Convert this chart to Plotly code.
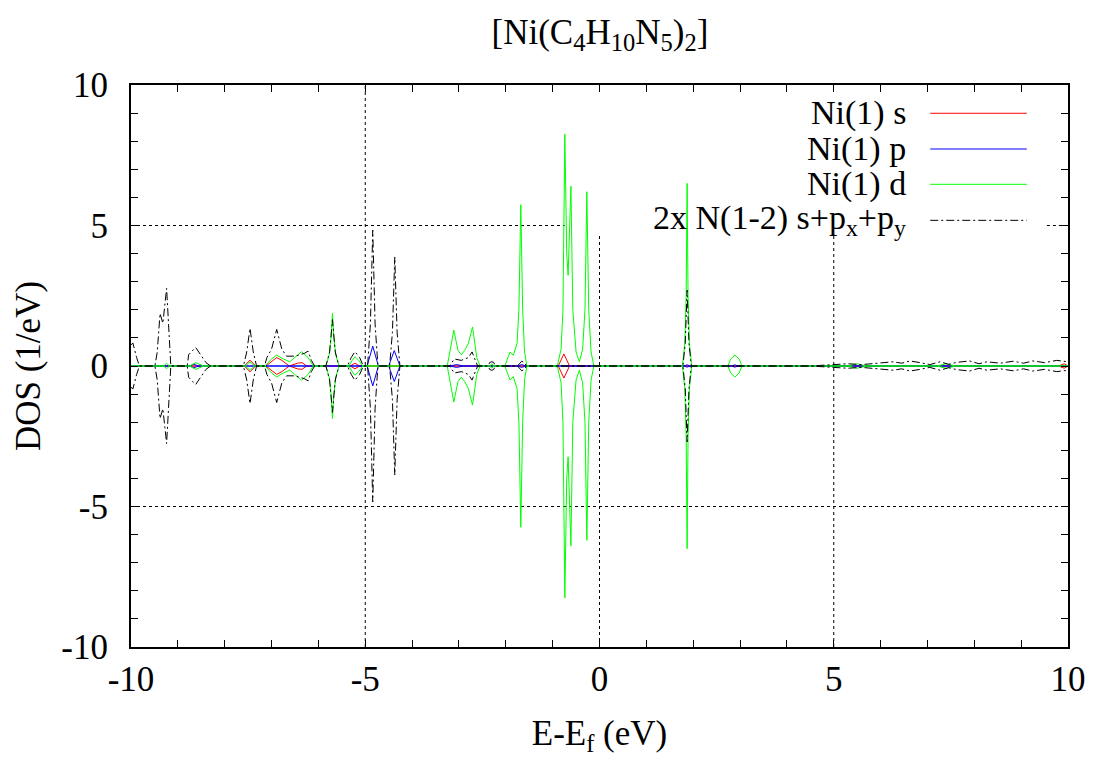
import plotly.graph_objects as go

# ---------------- data (spin-up DOS; spin-down drawn mirrored) ----------------
NI_S_E = [-10, -7.58, -7.46, -7.34, -7.12, -6.98, -6.89, -6.78, -6.62, -6.45, -6.35, -6.25,
          -5.32, -5.22, -5.12, -0.88, -0.76, -0.64, 9.8, 9.92, 10]
NI_S_DOS = [0, 0, 0.21, 0, 0, 0.2, 0.3, 0.2, 0, 0.1, 0.12, 0,
            0, 0.1, 0, 0, 0.43, 0, 0, 0.08, 0]

NI_P_E = [-10, -8.75, -8.66, -8.55, -4.96, -4.84, -4.72, -4.50, -4.38, -4.26,
          -3.2, -3.05, -2.9, -1.75, -1.66, -1.57, 1.8, 1.87, 1.94, 2.82, 2.89, 2.96, 10]
NI_P_DOS = [0, 0, 0.06, 0, 0, 0.71, 0, 0, 0.55, 0,
            0, 0.05, 0, 0, 0.05, 0, 0, 0.04, 0, 0, 0.04, 0, 0]

NI_D_E = [-10, -9.3, -9.24, -9.18, -8.75, -8.62, -8.45, -7.56, -7.46, -7.36,
          -7.14, -7.0, -6.89, -6.75, -6.61, -6.5, -6.36, -6.22, -6.11,
          -5.84, -5.77, -5.73, -5.70, -5.67, -5.63, -5.56,
          -5.35, -5.28, -5.22, -5.14, -5.05,
          -3.25, -3.18, -3.11, -3.02, -2.95, -2.88, -2.8, -2.71, -2.62, -2.55,
          -2.34, -2.3, -2.26,
          -2.02, -1.96, -1.91, -1.84, -1.76, -1.72, -1.68, -1.64, -1.6, -1.55,
          -0.9, -0.82, -0.78, -0.74, -0.70, -0.67, -0.64, -0.61, -0.57, -0.5, -0.43,
          -0.36, -0.31, -0.27, -0.23, -0.18, -0.12,
          1.77, 1.82, 1.85, 1.87, 1.89, 1.92, 1.97,
          2.74, 2.8, 2.89, 2.98, 3.04,
          5.3, 5.5, 5.7, 7.2, 7.4, 7.6, 10]
NI_D_DOS = [0, 0, 0.1, 0, 0, 0.12, 0, 0, 0.15, 0,
            0, 0.25, 0.39, 0.25, 0.15, 0.3, 0.51, 0.3, 0,
            0, 0.4, 1.0, 1.87, 1.0, 0.4, 0,
            0, 0.2, 0.33, 0.2, 0,
            0, 0.6, 1.28, 0.55, 0.4, 0.55, 0.8, 1.39, 0.3, 0,
            0, 0.08, 0,
            0, 0.3, 0.5, 0.38, 0.8, 2.0, 5.74, 2.0, 0.5, 0,
            0, 0.6, 2.0, 8.25, 4.0, 3.23, 4.5, 6.4, 2.0, 0.5, 0.15,
            0.6, 2.0, 6.2, 2.0, 0.5, 0,
            0, 0.8, 2.5, 6.5, 2.5, 0.8, 0,
            0, 0.25, 0.39, 0.25, 0,
            0, 0.08, 0, 0, 0.08, 0, 0]

N_E = [-10, -9.96, -9.88, -9.82,
       -9.49, -9.44, -9.38, -9.32, -9.24, -9.19, -9.15,
       -8.8, -8.77, -8.62, -8.5, -8.4, -8.3,
       -7.6, -7.53, -7.46, -7.39, -7.32,
       -7.15, -7.1, -7.0, -6.89, -6.78, -6.68, -6.5, -6.3, -6.22, -6.15, -6.08,
       -5.84, -5.76, -5.70, -5.64, -5.56,
       -5.38, -5.3, -5.22, -5.12, -5.04,
       -4.95, -4.89, -4.84, -4.79, -4.73,
       -4.48, -4.42, -4.37, -4.32, -4.26,
       -3.2, -3.1, -2.95, -2.8, -2.72, -2.65, -2.6,
       -2.38, -2.34, -2.3, -2.26, -2.22,
       -1.75, -1.7, -1.66, -1.6, -1.56,
       1.78, 1.83, 1.87, 1.91, 1.96,
       2.85, 2.89, 2.93,
       4.5, 5.0, 5.3, 5.6, 6.0, 6.27, 6.45, 6.63, 6.84, 7.05, 7.27, 7.45, 7.63,
       7.9, 8.1, 8.27, 8.55, 8.83, 9.05, 9.25, 9.5, 9.76, 10]
N_DOS = [0.75, 0.82, 0.3, 0,
         0, 0.5, 1.87, 1.52, 2.76, 1.0, 0,
         0, 0.4, 0.66, 0.35, 0.12, 0,
         0, 0.5, 1.34, 0.5, 0,
         0, 0.3, 0.6, 1.3, 0.6, 0.35, 0.35, 0.45, 0.53, 0.2, 0,
         0, 0.5, 1.65, 0.5, 0,
         0, 0.3, 0.51, 0.3, 0,
         0, 1.5, 4.84, 1.5, 0,
         0, 1.2, 3.88, 1.2, 0,
         0, 0.25, 0.2, 0.3, 0.5, 0.2, 0,
         0, 0.13, 0.15, 0.13, 0,
         0, 0.1, 0.17, 0.12, 0,
         0, 0.8, 2.7, 0.8, 0,
         0, 0.05, 0,
         0, 0.05, 0.08, 0.05, 0.1, 0.15, 0.1, 0.18, 0.12, 0.05, 0.15, 0.06, 0.13,
         0.18, 0.08, 0.15, 0.1, 0.17, 0.1, 0.18, 0.12, 0.2, 0.15]

SERIES = [
    ("Ni(1) s", NI_S_E, NI_S_DOS, "#ff0000", "solid"),
    ("Ni(1) p", NI_P_E, NI_P_DOS, "#0000ff", "solid"),
    ("Ni(1) d", NI_D_E, NI_D_DOS, "#00ff00", "solid"),
    ("2x N(1-2) s+p<sub>x</sub>+p<sub>y</sub>", N_E, N_DOS, "#000000", "8px,3px,2px,3px"),
]

X_TICKS = [-10, -5, 0, 5, 10]
Y_TICKS = [-10, -5, 0, 5, 10]
X_RANGE = [-10, 10]
Y_RANGE = [-10, 10]

# style: opaque key area (data units) that hides the dotted grid
KEY_X = (-0.74, 9.55)
KEY_Y = (4.7, 10)

FONT = "Liberation Serif"
FS = 35

fig = go.Figure()

# dotted grid (interrupted by the key box, as in gnuplot)
GRID = dict(color="black", width=1, dash="dot")
for gx in X_TICKS[1:-1]:
    top = KEY_Y[0] if KEY_X[0] <= gx <= KEY_X[1] else Y_RANGE[1]
    fig.add_shape(type="line", xref="x", yref="y", x0=gx, x1=gx, y0=Y_RANGE[0], y1=top,
                  line=GRID, layer="below")
for gy in Y_TICKS[1:-1]:
    if gy == 0:
        continue
    if KEY_Y[0] <= gy <= KEY_Y[1]:
        segs = [(X_RANGE[0], KEY_X[0]), (KEY_X[1], X_RANGE[1])]
    else:
        segs = [(X_RANGE[0], X_RANGE[1])]
    for a, b in segs:
        fig.add_shape(type="line", xref="x", yref="y", x0=a, x1=b, y0=gy, y1=gy,
                      line=GRID, layer="below")

for name, e, d, col, dash in SERIES:
    for sign in (1, -1):
        fig.add_trace(go.Scatter(
            x=e, y=[sign * v for v in d], mode="lines", name=name,
            line=dict(color=col, width=1, dash=dash),
            showlegend=False, hoverinfo="skip"))

# legend drawn gnuplot-style: right-aligned text, sample line to its right
LEG_Y = [0.9497, 0.8861, 0.8233, 0.7592]
for (name, e, d, col, dash), ly in zip(SERIES, LEG_Y):
    fig.add_annotation(x=0.829, y=ly, xref="paper", yref="paper", text=name,
                       showarrow=False, xanchor="right", yanchor="middle",
                       font=dict(family=FONT, size=34, color="black"))
    fig.add_shape(type="line", xref="paper", yref="paper", x0=0.853, x1=0.956,
                  y0=ly, y1=ly, line=dict(color=col, width=1, dash=dash))

axis_common = dict(
    showline=True, linecolor="black", linewidth=2, mirror="ticks",
    ticks="inside", ticklen=7, tickwidth=1, tickcolor="black",
    showgrid=False, zeroline=False,
    tickfont=dict(family=FONT, size=FS, color="black"),
    minor=dict(dtick=1, ticks="inside", ticklen=7, tickwidth=1,
               tickcolor="black", showgrid=False),
)

fig.update_xaxes(range=X_RANGE, tickvals=X_TICKS, ticktext=[str(v) for v in X_TICKS],
                 title=dict(text="E-E<sub>f</sub> (eV)", font=dict(family=FONT, size=FS, color="black"),
                            standoff=22),
                 ticklabelstandoff=0, **axis_common)
fig.update_yaxes(range=Y_RANGE, tickvals=Y_TICKS, ticktext=[str(v) for v in Y_TICKS],
                 title=dict(text="DOS (1/eV)", font=dict(family=FONT, size=FS, color="black"),
                            standoff=10),
                 ticklabelstandoff=14, **axis_common)

fig.update_layout(
    width=1095, height=757,
    margin=dict(l=123, r=35, t=77, b=118),
    paper_bgcolor="white", plot_bgcolor="white",
    title=dict(text="[Ni(C<sub>4</sub>H<sub>10</sub>N<sub>5</sub>)<sub>2</sub>]",
               x=0.5406, xanchor="center", y=0.969, yanchor="middle",
               font=dict(family=FONT, size=FS, color="black")),
    showlegend=False,
)

fig.write_html("out.html")
